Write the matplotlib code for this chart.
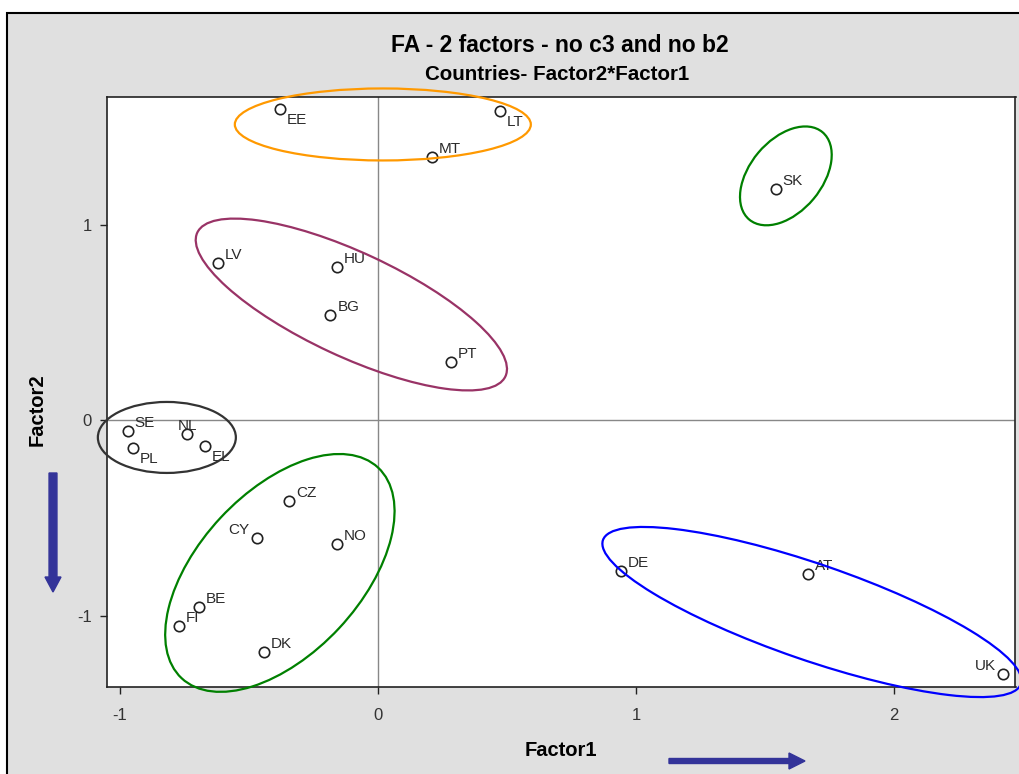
import numpy as np
import matplotlib
matplotlib.use("Agg")
import matplotlib.pyplot as plt
from matplotlib.patches import Ellipse, Rectangle, FancyArrow
from matplotlib.transforms import Affine2D, ScaledTranslation

plt.rcParams['font.family'] = ['Liberation Sans', 'DejaVu Sans']

# factor scores per country
countries = ['EE', 'LT', 'MT', 'SK', 'LV', 'HU', 'BG', 'PT', 'SE', 'NL', 'PL',
             'EL', 'CZ', 'CY', 'NO', 'BE', 'FI', 'DK', 'DE', 'AT', 'UK']
factor1 = [-0.380, 0.473, 0.208, 1.541, -0.621, -0.160, -0.184, 0.282, -0.970,
           -0.739, -0.951, -0.671, -0.345, -0.470, -0.160, -0.694, -0.770,
           -0.442, 0.941, 1.668, 2.424]
factor2 = [1.591, 1.582, 1.345, 1.182, 0.803, 0.786, 0.539, 0.300, -0.053,
           -0.070, -0.143, -0.131, -0.411, -0.600, -0.633, -0.953, -1.052,
           -1.184, -0.771, -0.788, -1.298]
# where the label sits relative to its point
label_pos = ['br', 'br', 'tr', 'tr', 'tr', 'tr', 'tr', 'tr', 'tr', 'top', 'br',
             'br', 'tr', 'tl', 'tr', 'tr', 'tr', 'tr', 'tr', 'tr', 'tl']

# hand-drawn cluster ellipses: centre (data), width/height (px), angle (deg)
groups = ['orange', 'purple', 'sk', 'black', 'green', 'blue']
group_centre = [(0.019, 1.513), (-0.103, 0.592), (1.581, 1.250),
                (-0.818, -0.088), (-0.380, -0.781), (1.682, -0.981)]
group_size = [(296, 72), (340, 104), (114, 72), (138, 71), (288, 162), (442, 96)]
group_angle = [0, -25, 50, 0, 47, -19]
group_color = ['#FF9900', '#993366', '#008000', '#333333', '#008000', '#0000FF']

xticks = [-1, 0, 1, 2]
yticks = [-1, 0, 1]

fig = plt.figure(figsize=(10.2, 7.74), dpi=100)
fig.patch.set_facecolor('white')
fig.patches.append(Rectangle((7 / 1020, -0.05), 1.1, 1 - 13 / 774 + 0.05,
                             transform=fig.transFigure, facecolor='#e0e0e0',
                             edgecolor='black', linewidth=1.5, zorder=-10))

ax = fig.add_axes([107 / 1020, 1 - 686.7 / 774, (1015.5 - 107) / 1020,
                   (686.7 - 96.7) / 774])
ax.set_facecolor('white')
ax.set_xlim(-1.050, 2.471)
ax.set_ylim(-1.363, 1.655)
ax.axhline(0, color='#888888', lw=1, zorder=1)
ax.axvline(0, color='#888888', lw=1, zorder=1)

ax.plot(factor1, factor2, 'o', ms=7.5, mfc='none', mec='#222222', mew=1.2,
        zorder=3)

offsets = {'tr': ((7, 4), 'left', 'baseline'),
           'br': ((7, -4), 'left', 'top'),
           'tl': ((-7, 4), 'right', 'baseline'),
           'top': ((0, 4), 'center', 'baseline')}
for name, x, y, pos in zip(countries, factor1, factor2, label_pos):
    off, ha, va = offsets[pos]
    ax.annotate(name, (x, y), xytext=off, textcoords='offset pixels',
                ha=ha, va=va, fontsize=11, color='#2a2a2a', zorder=4)

scale = Affine2D().scale(fig.dpi / 100)
for c, (w, h), ang, col in zip(group_centre, group_size, group_angle, group_color):
    tr = scale + ScaledTranslation(c[0], c[1], ax.transData)
    e = Ellipse((0, 0), w, h, angle=ang, transform=tr, fill=False,
                edgecolor=col, linewidth=1.6, clip_on=False, zorder=5)
    ax.add_patch(e)

ax.set_xticks(xticks)
ax.set_yticks(yticks)
ax.set_xticklabels([str(t) for t in xticks])
ax.set_yticklabels([str(t) for t in yticks])
ax.tick_params(direction='out', length=5, width=1, colors='#222222',
               labelcolor='#333333', labelsize=12)
ax.tick_params(axis='x', pad=10)
ax.tick_params(axis='y', pad=6)
for s in ax.spines.values():
    s.set_color('#222222')
    s.set_linewidth(1.2)

fig.text(560 / 1020, 1 - 45 / 774, 'FA - 2 factors - no c3 and no b2',
         ha='center', va='center', fontsize=16.5, fontweight='bold')
fig.text(557 / 1020, 1 - 75 / 774, 'Countries- Factor2*Factor1',
         ha='center', va='center', fontsize=14.8, fontweight='bold')
fig.text(561 / 1020, 1 - 750 / 774, 'Factor1', ha='center', va='center',
         fontsize=14.5, fontweight='bold')
fig.text(37 / 1020, 1 - 410 / 774, 'Factor2', ha='center', va='center',
         rotation=90, fontsize=14.5, fontweight='bold')

# direction arrows
fig.patches.append(FancyArrow(53 / 1020, 1 - 473 / 774, 0, -(592 - 473) / 774,
                              width=6 / 774, head_width=16 / 1020,
                              head_length=15 / 774, length_includes_head=True,
                              color='#333399', transform=fig.transFigure))
fig.patches.append(FancyArrow(669 / 1020, 1 - 761 / 774, (805 - 669) / 1020, 0,
                              width=5 / 774, head_width=16 / 774,
                              head_length=16 / 1020, length_includes_head=True,
                              color='#333399', transform=fig.transFigure))

fig.savefig('out.png', dpi=100)
